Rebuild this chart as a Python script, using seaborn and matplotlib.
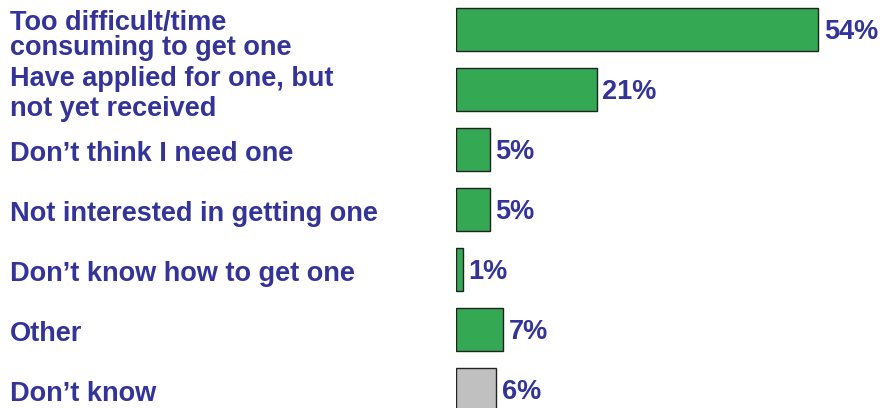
import matplotlib
matplotlib.use("Agg")
import matplotlib.pyplot as plt
import matplotlib.transforms as mtransforms
import seaborn as sns
import pandas as pd

categories = [
    "Too difficult/time\nconsuming to get one",
    "Have applied for one, but\nnot yet received",
    "Don\u2019t think I need one",
    "Not interested in getting one",
    "Don\u2019t know how to get one",
    "Other",
    "Don\u2019t know",
]
values = [54, 21, 5, 5, 1, 7, 6]
bar_colors = ["#34a853", "#34a853", "#34a853", "#34a853", "#34a853", "#34a853", "#c0c0c0"]
label_spacing = [0.92, 1.2, 1.2, 1.2, 1.2, 1.2, 1.2]
label_shift = [0.1, 0.08, 0.02, 0.02, 0.02, 0.02, 0.02]

text_color = "#333399"

sns.set_style("white")
plt.rcParams["font.family"] = ["Liberation Sans", "DejaVu Sans"]

df = pd.DataFrame({"reason": categories, "pct": values})

fig = plt.figure(figsize=(8.85, 4.08), dpi=100)
ax = fig.add_axes([456 / 885, 0, 1 - 456 / 885, 1])

sns.barplot(data=df, x="pct", y="reason", hue="reason", palette=bar_colors,
            orient="h", width=0.72, edgecolor="#222222", linewidth=1,
            saturation=1, legend=False, ax=ax)

ax.set_xlim(0, 64)
ax.set_ylim(6.31, -0.49)
ax.axis("off")

# category labels on the left edge of the figure
trans = mtransforms.blended_transform_factory(fig.transFigure, ax.transData)
for i, (cat, ls, dy) in enumerate(zip(categories, label_spacing, label_shift)):
    va = "center" if "\n" in cat else "center_baseline"
    ax.text(10 / 885, i + dy, cat, transform=trans, ha="left", va=va,
            fontsize=19.5, fontweight="bold", color=text_color,
            linespacing=ls)

# value labels right of each bar
for i, v in enumerate(values):
    ax.text(v + 0.85, i, f"{v}%", ha="left", va="center_baseline",
            fontsize=19.5, fontweight="bold", color=text_color)

fig.savefig("out.png", dpi=100)
